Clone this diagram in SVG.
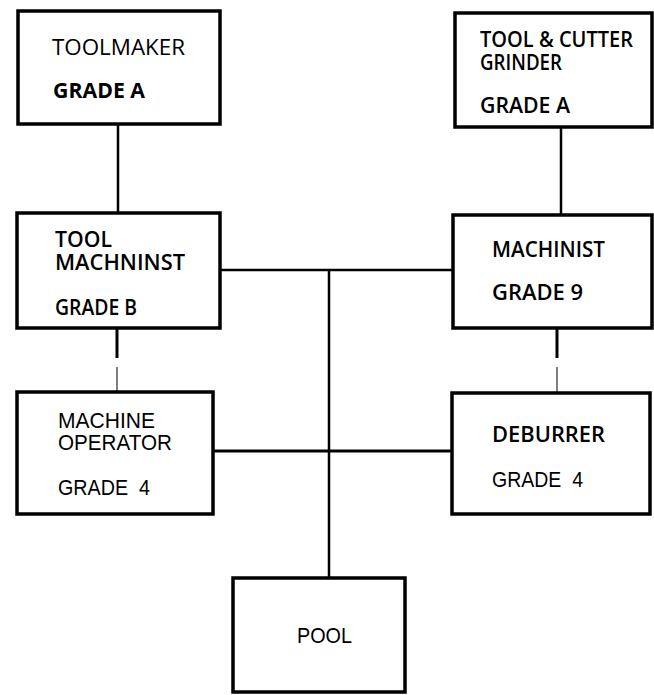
<svg xmlns="http://www.w3.org/2000/svg" width="654" height="695" viewBox="0 0 654 695">
<style>
.box{fill:#fff;stroke:#000;stroke-width:3.5}
.ln{stroke:#000;stroke-width:2.5;fill:none}
.thin{stroke:#000;stroke-width:1;fill:none}
.h{font-family:"Open Sans","Noto Sans",sans-serif;font-size:21px;fill:#000}
.sb{font-weight:600}
.b{font-weight:700}
.a{font-family:"Liberation Sans",Arial,sans-serif;font-size:22px;fill:#000}
</style>
<rect width="654" height="695" fill="#fff"/>
<g id="connectors">
<line class="ln" x1="118" y1="124" x2="118" y2="213"/>
<line class="ln" x1="561" y1="127" x2="561" y2="215"/>
<line class="ln" x1="220" y1="270" x2="453" y2="270"/>
<line class="ln" x1="329" y1="270" x2="329" y2="578"/>
<line class="ln" x1="213" y1="451" x2="452" y2="451" style="stroke-width:3"/>
<line class="ln" x1="117" y1="328" x2="117" y2="358" style="stroke-width:3"/>
<line class="thin" x1="117" y1="367" x2="117" y2="392"/>
<line class="ln" x1="557" y1="328" x2="557" y2="358" style="stroke-width:3"/>
<line class="thin" x1="557" y1="367" x2="557" y2="393"/>
</g>
<g id="toolmaker">
<rect class="box" x="18" y="11" width="202" height="113"/>
<text class="h" x="52" y="55" textLength="133" lengthAdjust="spacingAndGlyphs">TOOLMAKER</text>
<text class="h b" x="53" y="98" textLength="92" lengthAdjust="spacingAndGlyphs">GRADE A</text>
</g>
<g id="cutter">
<rect class="box" x="455" y="13" width="197" height="114"/>
<text class="h sb"><tspan x="480" y="47" textLength="153" lengthAdjust="spacingAndGlyphs">TOOL &amp; CUTTER</tspan><tspan x="480" y="70" textLength="82" lengthAdjust="spacingAndGlyphs">GRINDER</tspan></text>
<text class="h sb" x="480" y="113" textLength="90" lengthAdjust="spacingAndGlyphs">GRADE A</text>
</g>
<g id="toolmachinist">
<rect class="box" x="17" y="213" width="203" height="115"/>
<text class="h sb"><tspan x="55" y="247" textLength="57" lengthAdjust="spacingAndGlyphs">TOOL</tspan><tspan x="55" y="270" textLength="130" lengthAdjust="spacingAndGlyphs">MACHNINST</tspan></text>
<text class="h sb" x="55" y="315" textLength="82" lengthAdjust="spacingAndGlyphs">GRADE B</text>
</g>
<g id="machinist">
<rect class="box" x="453" y="215" width="199" height="113"/>
<text class="h sb" x="492" y="257" textLength="113" lengthAdjust="spacingAndGlyphs">MACHINIST</text>
<text class="h sb" x="492" y="300" textLength="91" lengthAdjust="spacingAndGlyphs">GRADE 9</text>
</g>
<g id="operator">
<rect class="box" x="17" y="392" width="196" height="122"/>
<text class="a"><tspan x="58" y="428" textLength="97" lengthAdjust="spacingAndGlyphs">MACHINE</tspan><tspan x="58" y="450" textLength="114" lengthAdjust="spacingAndGlyphs">OPERATOR</tspan></text>
<text class="a" x="58" y="495" textLength="92" lengthAdjust="spacingAndGlyphs" xml:space="preserve">GRADE  4</text>
</g>
<g id="deburrer">
<rect class="box" x="452" y="393" width="198" height="121"/>
<text class="h sb" x="492" y="442" textLength="113" lengthAdjust="spacingAndGlyphs">DEBURRER</text>
<text class="a" x="492" y="487" textLength="91" lengthAdjust="spacingAndGlyphs" xml:space="preserve">GRADE  4</text>
</g>
<g id="pool">
<rect class="box" x="233" y="578" width="172" height="114"/>
<text class="a" x="297" y="643" textLength="55" lengthAdjust="spacingAndGlyphs">POOL</text>
</g>
</svg>
